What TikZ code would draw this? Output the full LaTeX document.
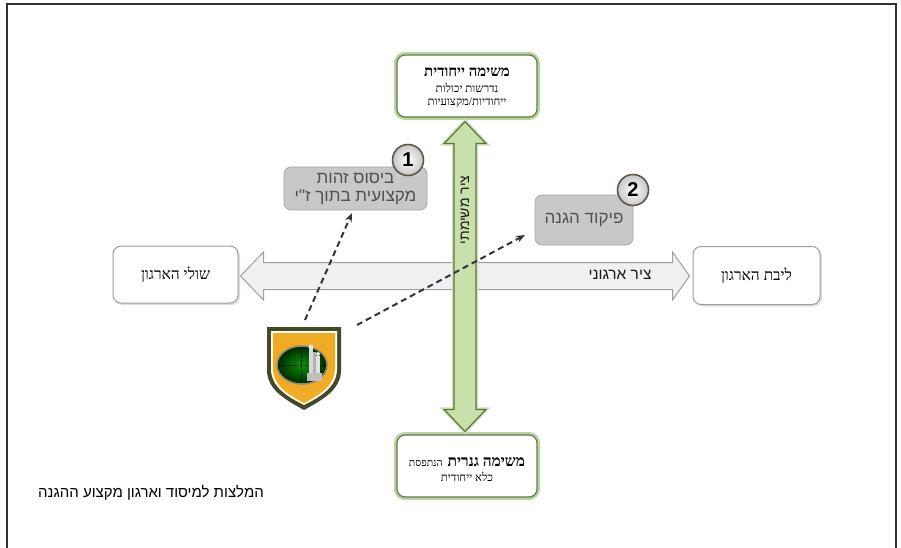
\documentclass[tikz,border=0pt]{standalone}
\usepackage{fontspec}
\setmainfont{Liberation Serif}
\newfontfamily\hebsans[Script=Hebrew]{Liberation Sans}
\newfontfamily\hebserif[Script=Hebrew]{Liberation Serif}
\TeXXeTstate=1
\usetikzlibrary{shadows,arrows.meta,calc}
\definecolor{frameC}{RGB}{50,50,50}
\definecolor{glowG}{RGB}{185,212,160}
\definecolor{edgeG}{RGB}{100,120,80}
\definecolor{boxEdge}{RGB}{150,158,168}
\definecolor{grayFill}{RGB}{200,200,200}
\definecolor{grayEdge}{RGB}{165,165,165}
\definecolor{grayText}{RGB}{80,80,80}
\definecolor{hArrowFill}{RGB}{240,240,240}
\definecolor{hArrowEdge}{RGB}{160,160,160}
\definecolor{vArrowFill}{RGB}{200,224,170}
\definecolor{vArrowEdge}{RGB}{90,120,60}
\definecolor{dashC}{RGB}{50,50,65}
\definecolor{olive}{RGB}{70,72,45}
\definecolor{shieldY}{RGB}{240,170,35}
\definecolor{circEdge}{RGB}{95,85,75}
\tikzset{
  wbox/.style={draw=boxEdge, line width=1pt, fill=white, rounded corners=8pt,
    drop shadow={shadow xshift=2pt, shadow yshift=-2pt, opacity=0.25},
    inner sep=0pt, align=center},
  gbox/.style={wbox, draw=edgeG, line width=1.2pt,
    preaction={draw=glowG, line width=6pt}},
  graybox/.style={draw=grayEdge, line width=0.8pt, fill=grayFill, rounded corners=7pt,
    inner sep=0pt, align=center, text=grayText, font=\hebsans\fontsize{17}{20}\selectfont},
  numcirc/.style={circle, draw=circEdge, line width=1.6pt, minimum size=31pt, inner sep=0pt,
    inner color=white, outer color=black!22,
    font=\hebsans\bfseries\fontsize{20}{20}\selectfont},
  dasharrow/.style={draw=dashC, line width=2pt, dash pattern=on 6pt off 4pt,
    -{Stealth[length=9pt,width=7pt]}},
}
\begin{document}
\begin{tikzpicture}[x=1pt,y=-1pt]
\useasboundingbox (0,0) rectangle (901,548);
% frame
\draw[frameC, line width=2.2pt] (7,548) -- (7,4) -- (896,4) -- (896,548);

% boxes
\node[gbox, minimum width=140pt, minimum height=62pt] (top) at (467,86) {};
\node[font=\hebserif\bfseries\fontsize{15}{16}\selectfont] at (467,72) {\beginR משימה ייחודית\endR};
\node[font=\hebserif\fontsize{11.5}{12}\selectfont] at (467,88) {\beginR נדרשות יכולות\endR};
\node[font=\hebserif\fontsize{11.5}{12}\selectfont] at (467,103) {\beginR ייחודיות/מקצועיות\endR};

\node[gbox, minimum width=140pt, minimum height=62pt] (bot) at (467,466) {};
\node at (467,462) {\beginR{\hebserif\bfseries\fontsize{15.5}{16}\selectfont משימה גנרית}\ \ {\hebserif\fontsize{10.5}{12}\selectfont הנתפסת}\endR};
\node[font=\hebserif\fontsize{11.5}{12}\selectfont] at (467,477) {\beginR כלא ייחודית\endR};

\node[wbox, minimum width=125pt, minimum height=57pt, font=\hebserif\fontsize{15.5}{17}\selectfont] (lb) at (175.5,274.5) {\beginR שולי הארגון\endR};
\node[wbox, minimum width=127pt, minimum height=58pt, font=\hebserif\fontsize{15.5}{17}\selectfont] (rb) at (756.5,275.5) {\beginR ליבת הארגון\endR};

% horizontal arrow
\coordinate (hl) at ($(lb.east)+(2,1.5)$);
\coordinate (hr) at ($(rb.west)+(-3,0.5)$);
\filldraw[fill=hArrowFill, draw=hArrowEdge, line width=1pt, line join=miter]
  (hl) -- ($(hl)+(23,-24)$) -- ($(hl)+(23,-13.5)$) -- ($(hr)+(-17,-13.5)$) -- ($(hr)+(-17,-24)$)
  -- (hr) -- ($(hr)+(-17,24)$) -- ($(hr)+(-17,13.5)$) -- ($(hl)+(23,13.5)$) -- ($(hl)+(23,24)$) -- cycle;
\node[font=\hebsans\fontsize{15.5}{18}\selectfont, text=black!90] (horg) at (620,275) {\beginR ציר ארגוני\endR};

% vertical arrow
\coordinate (vt) at ($(top.south)+(-2,4)$);
\coordinate (vb) at ($(bot.north)+(-2,-3)$);
\filldraw[fill=vArrowFill, draw=vArrowEdge, line width=1.2pt, line join=miter,
  preaction={draw=glowG!70, line width=4pt}]
  (vt) -- ($(vt)+(21,22)$) -- ($(vt)+(11,22)$) -- ($(vb)+(11,-22)$) -- ($(vb)+(21,-22)$)
  -- (vb) -- ($(vb)+(-21,-22)$) -- ($(vb)+(-11,-22)$) -- ($(vt)+(-11,22)$) -- ($(vt)+(-21,22)$) -- cycle;
\node[rotate=90, font=\hebsans\fontsize{14}{16}\selectfont, text=black!90] (vmis) at (465,210) {\beginR ציר משימתי\endR};

% gray boxes
\node[graybox, minimum width=143pt, minimum height=43pt] (g1) at (355.5,188.5)
  {\beginR ביסוס זהות\endR\\[-2pt]\beginR מקצועית בתוך ז"י\endR};
\node[numcirc] (n1) at (408,160) {1};
\node[graybox, minimum width=98pt, minimum height=50pt] (g2) at (584,220) {\beginR פיקוד הגנה\endR};
\node[numcirc] (n2) at (633,190) {2};

% shield
\path[fill=olive] (267,327) -- (341,327) -- (341,370) .. controls (341,390) and (322,400) .. (304,410)
  .. controls (286,400) and (267,390) .. (267,370) -- cycle;
\path[fill=white!90!yellow] (271,331) -- (337,331) -- (337,369) .. controls (337,387) and (320,397) .. (304,405)
  .. controls (288,397) and (271,387) .. (271,369) -- cycle;
\path[fill=shieldY] (273,333) -- (335,333) -- (335,368) .. controls (335,386) and (319,395) .. (304,403)
  .. controls (289,395) and (273,386) .. (273,368) -- cycle;
\draw[draw=black!20!olive!60, line width=1.5pt, inner color=green!60!black, outer color=black!85!green]
  (302,365) ellipse [x radius=25pt, y radius=19pt];
\draw[black, line width=0.8pt, dash pattern=on 2pt off 1pt] (279,365) -- (326,365);
\draw[black, line width=0.8pt, dash pattern=on 2pt off 1pt] (301,348) -- (301,382);
\fill[black!15] (309,348) rectangle (313,381);
\fill[black!30] (313,352) rectangle (316,380);
\fill[black!12] (316,356) rectangle (320,373);
\fill[black!25] (307,373) rectangle (322,381);
\fill[black!10] (311,347) circle (2.5pt);
\fill[black!10] (318,354) circle (2pt);
\coordinate (s1) at (305,320);
\coordinate (s2) at (357,325);
\coordinate (t1) at (352,213);
\coordinate (t2) at (525,235);

% dashed arrows
\draw[dasharrow] (s1) -- (t1);
\draw[dasharrow] (s2) -- (t2);

% caption
\node[font=\hebsans\fontsize{15}{17}\selectfont] (cap) at (151,493) {\beginR המלצות למיסוד וארגון מקצוע ההגנה\endR};
\end{tikzpicture}
\end{document}
